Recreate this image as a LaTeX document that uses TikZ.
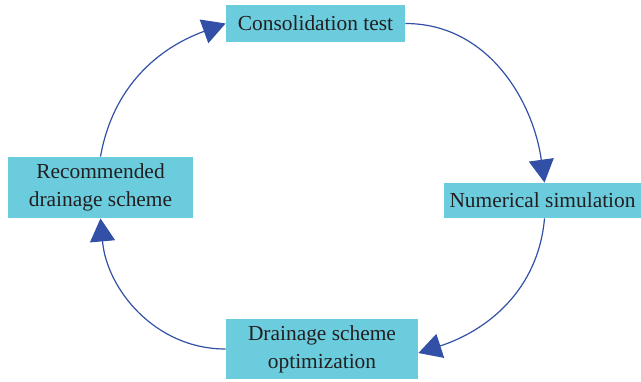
\documentclass[tikz,border=0pt]{standalone}
\usepackage{fontspec}
\setmainfont{Liberation Serif}
\usepackage{tikz}
\usetikzlibrary{arrows.meta, shapes.geometric}
\definecolor{boxcyan}{RGB}{106,204,221}
\definecolor{arrowblue}{RGB}{50,80,165}
\definecolor{textgray}{RGB}{35,31,32}
\tikzstyle{process} = [rectangle, fill=boxcyan, text=textgray, align=center, inner sep=2pt, font=\fontsize{10.7}{14}\selectfont]
\tikzstyle{arrow} = [line width=0.6pt, draw=arrowblue, -{Triangle[length=11.5pt, width=12.5pt, fill=arrowblue]}]

\begin{document}
\begin{tikzpicture}[x=0.5pt, y=-0.5pt]
                            \useasboundingbox (0,0) rectangle (641,381);
                            \node (test) [process, minimum width=89.5pt, minimum height=18.5pt] at (315.5,23.5) {Consolidation test};
                            \node (sim) [process, minimum width=98.5pt, minimum height=17.5pt] at (542.5,200.5) {Numerical simulation};
                            \node (opt) [process, minimum width=96pt, minimum height=30pt] at (322,349) {Drainage scheme\\optimization};
                            \node (rec) [process, minimum width=92.5pt, minimum height=30.5pt] at (100.5,187.5) {Recommended\\drainage scheme};
                            \draw [arrow] (test.east) to [out = 0, in = 98] ([xshift=1pt]sim.north);
                            \draw [arrow] ([xshift=1pt]sim.south) to [out = -95, in = 18] ([yshift=-2pt]opt.east);
                            \draw [arrow] (opt.west) to [out = 180, in = -85] (rec.south);
                            \draw [arrow] (rec.north) to [out = 80, in = 200] (test.west);
                        \end{tikzpicture}
\end{document}
